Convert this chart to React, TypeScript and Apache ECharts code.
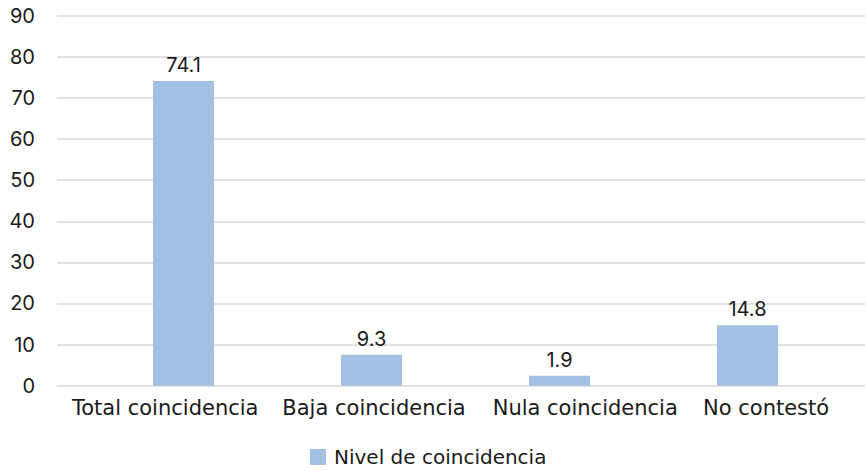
import React, { useEffect, useRef } from "react";
import * as echarts from "echarts";

const categories = ["Total coincidencia", "Baja coincidencia", "Nula coincidencia", "No contestó"];
const barHeights = [74.1, 7.5, 2.4, 14.7];
const labelTexts = ["74.1", "9.3", "1.9", "14.8"];
const seriesName = "Nivel de coincidencia";
const yMin = 0;
const yMax = 90;
const yInterval = 10;

const NUM_FONT = "Inter";
const WORD_FONT = "DejaVu Sans";
const TEXT = "#1a1a1a";

export default function App() {
  const ref = useRef<HTMLDivElement>(null);
  useEffect(() => {
    if (!ref.current) return;
    const chart = echarts.init(ref.current, undefined, { renderer: "svg" });
    const top = 15.7;
    const bottom = 471 - 385.7;
    const yBase = { type: "value", min: yMin, max: yMax, interval: yInterval };
    chart.setOption({
      animation: false,
      textStyle: { fontFamily: WORD_FONT },
      legend: {
        left: 310,
        top: 447,
        padding: 0,
        itemWidth: 16,
        itemHeight: 16,
        itemGap: 10,
        icon: "rect",
        textStyle: {
          fontFamily: WORD_FONT,
          fontSize: 20,
          lineHeight: 20,
          color: TEXT,
          padding: [0, 0, 0, 3],
        },
        data: [seriesName],
      },
      grid: [
        { left: 57, right: 0, top, bottom },
        { left: 89.5, right: 23.5, top, bottom },
        { left: 72, width: 631, top, bottom },
      ],
      xAxis: [
        { type: "category", gridIndex: 0, data: categories, show: false },
        {
          type: "category",
          gridIndex: 1,
          data: categories,
          axisLine: { show: false },
          axisTick: { show: false },
          axisLabel: { show: false },
        },
        {
          type: "category",
          gridIndex: 2,
          data: categories,
          boundaryGap: false,
          axisLine: { show: false },
          axisTick: { show: false },
          axisLabel: {
            show: true,
            align: "left",
            interval: 0,
            margin: 12,
            fontFamily: WORD_FONT,
            fontSize: 21,
            color: TEXT,
          },
        },
      ],
      yAxis: [
        {
          ...yBase,
          gridIndex: 0,
          axisLine: { show: false },
          axisTick: { show: false },
          axisLabel: { margin: 22, fontFamily: NUM_FONT, fontSize: 20, color: TEXT },
          splitLine: { show: true, lineStyle: { color: "#d9d9d9", width: 1.5 } },
        },
        { ...yBase, gridIndex: 1, show: false, splitLine: { show: false } },
        { ...yBase, gridIndex: 2, show: false, splitLine: { show: false } },
      ],
      series: [
        {
          name: seriesName,
          type: "bar",
          xAxisIndex: 1,
          yAxisIndex: 1,
          data: barHeights,
          barWidth: 61,
          itemStyle: { color: "#a3bfe1" },
          label: {
            show: true,
            position: "top",
            distance: 6,
            fontFamily: NUM_FONT,
            fontSize: 20,
            color: TEXT,
            formatter: (p: any) => labelTexts[p.dataIndex],
          },
        },
      ],
    });
    return () => chart.dispose();
  }, []);
  return (
    <div
      ref={ref}
      style={{ position: "fixed", left: 0, top: 0, width: 865, height: 471, background: "#fff" }}
    />
  );
}
